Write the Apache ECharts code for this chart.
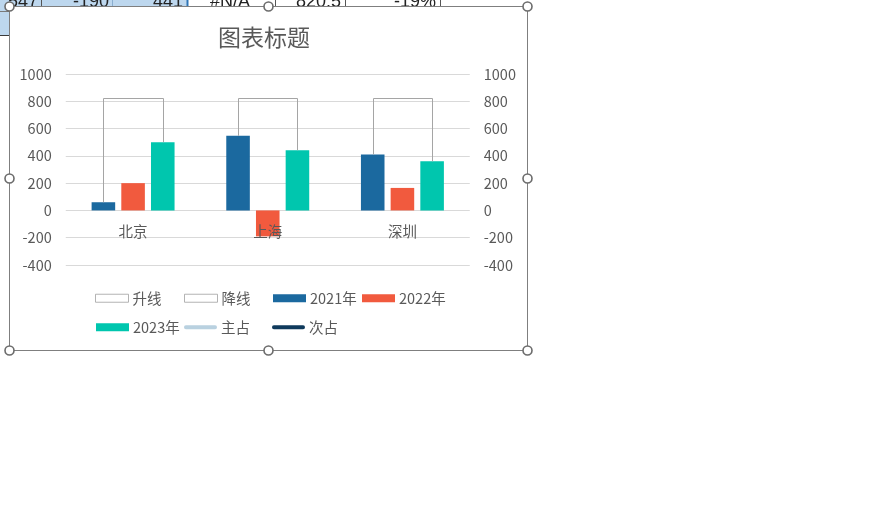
<!DOCTYPE html>
<html>
<head>
<meta charset="utf-8">
<script src="https://cdn.jsdelivr.net/npm/echarts@6/dist/echarts.min.js"></script>
<style>
html,body{margin:0;padding:0;background:#fff;}
#c{width:869px;height:511px;}
</style>
</head>
<body>
<div id="c"></div>
<script>
// ---- data ----
const categories = ['北京', '上海', '深圳'];
const y2021 = [60, 547, 410];
const y2022 = [200, -190, 165];
const y2023 = [500, 441, 360];
const bracketTop = [820.5, 820.5, 820.5];
const yTicks = { min: -400, max: 1000, interval: 200 };
const legendRow1 = ['升线', '降线', '2021年', '2022年'];
const legendRow2 = ['2023年', '主占', '次占'];
const sheetCells = ['547', '-190', '441', '#N/A', '820.5', '-19%'];

// ---- style ----
const FONT = '"Noto Sans CJK SC", "Noto Sans", sans-serif';
const TXT = '#595959';
const C21 = '#1b699f', C22 = '#f15a3e', C23 = '#00c6ae';
const BAR_W = 0.175, BAR_GAP = 0.26;
const CAT_LABEL_DY = 21;

const chart = echarts.init(document.getElementById('c'), null, {renderer: 'canvas'});

const lineIcon = 'path://M2,0 L33,0 A2,2 0 0 1 33,4 L2,4 A2,2 0 0 1 2,0 Z';
function legendItem(name) {
  if (name === '升线' || name === '降线') return {name, icon: 'rect', itemStyle: {color: '#fff', borderColor: '#a0a0a0', borderWidth: 1}};
  if (name === '主占') return {name, icon: lineIcon, itemStyle: {color: '#b9d1e0'}};
  if (name === '次占') return {name, icon: lineIcon, itemStyle: {color: '#0f3a5c'}};
  return {name, icon: 'rect'};
}
const legendBase = {
  itemWidth: 33, itemHeight: 8, itemGap: 0, padding: 0,
  textStyle: {color: TXT, fontSize: 14.5, fontFamily: FONT, padding: [0,0,0,-1]},
  selectedMode: false
};
const legends = [];
legendRow1.forEach((n, k) => legends.push(Object.assign({}, legendBase, {left: 95 + k * 89, top: 291, data: [legendItem(n)]})));
legendRow2.forEach((n, k) => legends.push(Object.assign({}, legendBase, {left: 96 + k * 88, top: 320, data: [legendItem(n)]})));

// sheet strip (top) positions: right/centers of cells
const cellPos = [[38, 'right'], [109, 'right'], [183, 'right'], [230, 'center'], [341, 'right'], [436, 'right']];
const graphics = [
  {type: 'rect', shape: {x: 0, y: 0, width: 187, height: 6}, style: {fill: '#bdd7ee'}, z: 0},
  {type: 'rect', shape: {x: 0, y: 0, width: 9, height: 35}, style: {fill: '#bdd7ee'}, z: 0},
  {type: 'line', shape: {x1: 0, y1: 11.5, x2: 9, y2: 11.5}, style: {stroke: '#7a7a7a', lineWidth: 1}, z: 0},
  {type: 'line', shape: {x1: 0, y1: 35.5, x2: 9, y2: 35.5}, style: {stroke: '#3a3a3a', lineWidth: 1}, z: 0},
  {type: 'line', shape: {x1: 41.5, y1: 0, x2: 41.5, y2: 6}, style: {stroke: '#555', lineWidth: 1}, z: 0},
  {type: 'line', shape: {x1: 112.5, y1: 0, x2: 112.5, y2: 6}, style: {stroke: '#8aaed0', lineWidth: 1}, z: 0},
  {type: 'line', shape: {x1: 187.5, y1: 0, x2: 187.5, y2: 6}, style: {stroke: '#2e75b6', lineWidth: 2}, z: 0},
  {type: 'line', shape: {x1: 275.5, y1: 0, x2: 275.5, y2: 6}, style: {stroke: '#555', lineWidth: 1}, z: 0},
  {type: 'line', shape: {x1: 345.5, y1: 0, x2: 345.5, y2: 6}, style: {stroke: '#555', lineWidth: 1}, z: 0},
  {type: 'line', shape: {x1: 440.5, y1: 0, x2: 440.5, y2: 6}, style: {stroke: '#555', lineWidth: 1}, z: 0}
];
sheetCells.forEach((t, i) => {
  graphics.push({type: 'text', x: cellPos[i][0], y: 11, z: 0,
    style: {text: t, fill: '#222', font: '18px "Liberation Sans", sans-serif', textAlign: cellPos[i][1], textVerticalAlign: 'bottom'}});
});
// chart area frame
graphics.push({type: 'rect', shape: {x: 9.5, y: 6.5, width: 518, height: 344}, style: {fill: '#fff', stroke: '#7f7f7f', lineWidth: 1}, z: 0});
// selection handles
[[9, 6], [268, 6], [527, 6], [9, 178], [527, 178], [9, 350], [268, 350], [527, 350]].forEach(p => {
  graphics.push({type: 'circle', shape: {cx: p[0] + 0.5, cy: p[1] + 0.5, r: 4.5}, style: {fill: '#fff', stroke: '#6b6b6b', lineWidth: 1.6}, z: 100});
});

const bracketData = categories.map((c, i) => [i, y2021[i], bracketTop[i], y2023[i]]);
const catLabelData = categories.map((c, i) => [i, 0]);
const plainNum = v => String(v);

const option = {
  backgroundColor: '#fff',
  animation: false,
  textStyle: {fontFamily: FONT},
  graphic: {elements: graphics},
  title: {
    text: '图表标题', left: 259, top: 21, textAlign: 'center',
    textStyle: {color: TXT, fontSize: 23, fontWeight: 'normal', fontFamily: FONT}
  },
  legend: legends,
  grid: {left: 65.75, right: 399.25, top: 74, bottom: 246, containLabel: false},
  xAxis: {
    type: 'category', data: categories,
    axisLine: {show: false},
    axisTick: {show: false},
    axisLabel: {show: false}
  },
  yAxis: [
    {type: 'value', min: yTicks.min, max: yTicks.max, interval: yTicks.interval,
     axisLine: {show: false}, axisTick: {show: false},
     axisLabel: {color: TXT, fontSize: 14.5, fontFamily: FONT, margin: 14, formatter: plainNum},
     splitLine: {lineStyle: {color: '#d9d9d9'}}},
    {type: 'value', position: 'right', min: yTicks.min, max: yTicks.max, interval: yTicks.interval,
     axisLine: {show: false}, axisTick: {show: false},
     axisLabel: {color: TXT, fontSize: 14.5, fontFamily: FONT, margin: 14, formatter: plainNum},
     splitLine: {show: false}}
  ],
  series: [
    {name: '升线', type: 'scatter', data: [], itemStyle: {color: '#fff', borderColor: '#a0a0a0'}},
    {name: '降线', type: 'scatter', data: [], itemStyle: {color: '#fff', borderColor: '#a0a0a0'}},
    {name: '2021年', type: 'bar', data: y2021, barWidth: (BAR_W * 100) + '%', barGap: (BAR_GAP * 100) + '%', itemStyle: {color: C21}},
    {name: '2022年', type: 'bar', data: y2022, barWidth: (BAR_W * 100) + '%', barGap: (BAR_GAP * 100) + '%', itemStyle: {color: C22}},
    {name: '2023年', type: 'bar', data: y2023, barWidth: (BAR_W * 100) + '%', barGap: (BAR_GAP * 100) + '%', itemStyle: {color: C23}},
    {name: '主占', type: 'line', data: [], color: '#b9d1e0', showSymbol: false},
    {name: '次占', type: 'line', data: [], color: '#0f3a5c', showSymbol: false},
    {
      name: 'bracket', type: 'custom', data: bracketData, z: 3,
      encode: {x: 0, y: [1, 2, 3]},
      renderItem: function (params, api) {
        const i = api.value(0);
        const p1 = api.coord([i, api.value(1)]);
        const pt = api.coord([i, api.value(2)]);
        const p3 = api.coord([i, api.value(3)]);
        const band = api.size([1, 0])[0];
        const off = band * BAR_W * (1 + BAR_GAP);
        const xl = Math.round(p1[0] - off) + 0.5, xr = Math.round(p1[0] + off) + 0.5;
        const yt = Math.round(pt[1]) + 0.5;
        return {
          type: 'polyline',
          shape: {points: [[xl, p1[1]], [xl, yt], [xr, yt], [xr, p3[1]]]},
          style: {stroke: '#a5a5a5', lineWidth: 1, fill: null}
        };
      }
    },
    {
      name: 'catLabels', type: 'custom', data: catLabelData, z: 5,
      encode: {x: 0, y: 1},
      renderItem: function (params, api) {
        const i = api.value(0);
        const p = api.coord([i, api.value(1)]);
        return {
          type: 'text', x: p[0], y: p[1] + CAT_LABEL_DY,
          style: {text: categories[i], fill: TXT, font: '14.5px ' + FONT, textAlign: 'center', textVerticalAlign: 'middle'}
        };
      }
    }
  ]
};
chart.setOption(option);
</script>
</body>
</html>
